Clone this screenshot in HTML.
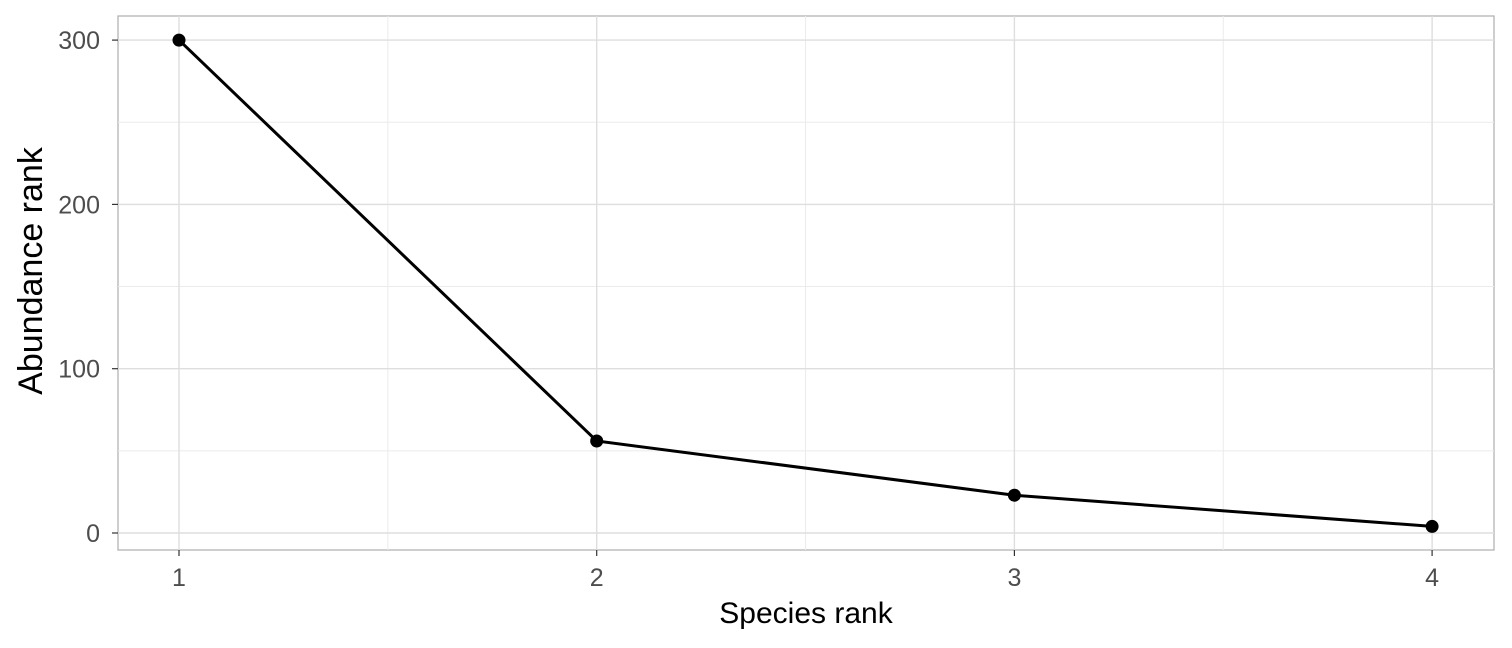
<!DOCTYPE html>
<html><head><meta charset="utf-8"><style>
body{margin:0;background:#fff;}
svg{display:block;font-family:"Liberation Sans",sans-serif;}
</style></head><body>
<svg id="chart" width="1512" height="648">
<rect x="118" y="16" width="1376" height="534" fill="#fff" stroke="#b3b3b3" stroke-width="1.3"/>
<g id="grid"></g>
<g id="marks"></g>
<g id="axes"></g>
<text x="806" y="623" font-size="30" text-anchor="middle" fill="#000">Species rank</text>
<text transform="translate(42,271) rotate(-90)" font-size="34" text-anchor="middle" fill="#000">Abundance rank</text>
</svg>
<script>
const categories=[1,2,3,4];
const abundance=[300,56,23,4];
const yTicks=[0,100,200,300];
const xTicks=[1,2,3,4];
const NS="http://www.w3.org/2000/svg";
const xs=v=>179+(v-1)*417.7;
const ys=v=>533-v*1.643;
function mk(tag,attrs,parent){const e=document.createElementNS(NS,tag);for(const k in attrs)e.setAttribute(k,attrs[k]);document.getElementById(parent).appendChild(e);return e;}
for(let i=0;i<yTicks.length-1;i++){const v=(yTicks[i]+yTicks[i+1])/2;
const l=mk('line',{x1:118,x2:1494,y1:ys(v),y2:ys(v),stroke:'#ebebeb','stroke-width':1},'grid');

}
for(let i=0;i<xTicks.length-1;i++){const v=(xTicks[i]+xTicks[i+1])/2;
const l=mk('line',{x1:xs(v),x2:xs(v),y1:16,y2:550,stroke:'#ebebeb','stroke-width':1},'grid');

}
yTicks.forEach(v=>{
const l=mk('line',{x1:118,x2:1494,y1:ys(v),y2:ys(v),stroke:'#dedede','stroke-width':1.4},'grid');


const t=mk('line',{x1:112,x2:118,y1:ys(v),y2:ys(v),stroke:'#333','stroke-width':1.2},'axes');


const tx=mk('text',{x:100,y:ys(v)+9,'font-size':25,'text-anchor':'end',fill:'#4d4d4d'},'axes');
tx.textContent=v;


});
xTicks.forEach(v=>{
const l=mk('line',{x1:xs(v),x2:xs(v),y1:16,y2:550,stroke:'#dedede','stroke-width':1.4},'grid');


const t=mk('line',{x1:xs(v),x2:xs(v),y1:550,y2:556,stroke:'#333','stroke-width':1.2},'axes');


const tx=mk('text',{x:xs(v),y:586,'font-size':25,'text-anchor':'middle',fill:'#4d4d4d'},'axes');
tx.textContent=v;


});
const pts=categories.map((c,i)=>xs(c)+','+ys(abundance[i])).join(' ');
const pl=mk('polyline',{points:pts,fill:'none',stroke:'#000','stroke-width':3},'marks');


categories.forEach((c,i)=>{
const p=mk('circle',{cx:xs(c),cy:ys(abundance[i]),r:6.5,fill:'#000'},'marks');


});
</script>
</body></html>
